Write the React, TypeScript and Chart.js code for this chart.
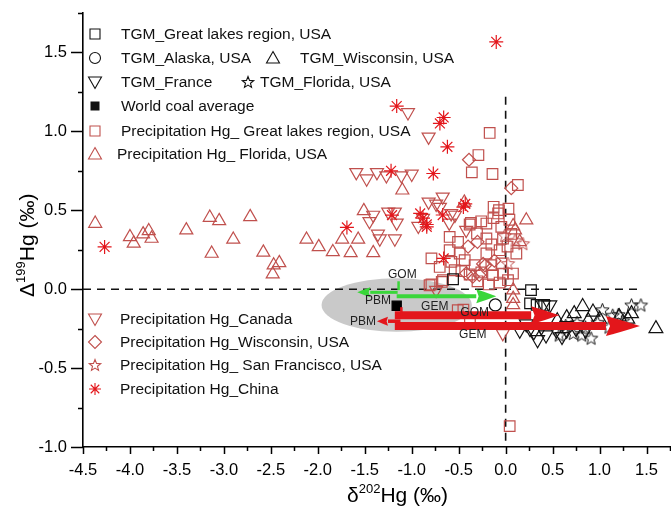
import React, { useEffect, useRef } from 'react';
import { Chart, registerables } from 'chart.js';

Chart.register(...registerables);

// ---------------- DATA (δ202Hg, Δ199Hg) ----------------
const xTickMin = -4.5;
const xTickMax = 1.75;
const yTickMin = -1.0;
const yTickMax = 1.75;

const tgmGreatLakes = [[-0.56, 0.063], [0.27, -0.006], [0.26, -0.09], [0.33, -0.1], [0.41, -0.1]];
const tgmAlaska = [[-0.11, -0.1]];
const tgmWisconsin = [[0.82, -0.11], [0.93, -0.145], [0.73, -0.155], [0.65, -0.18], [1.34, -0.155], [1.21, -0.175], [1.6, -0.25], [0.55, -0.2], [1.0, -0.19], [0.88, -0.2], [1.3, -0.19]];
const tgmFrance = [[0.15, -0.26], [0.26, -0.25], [0.34, -0.32], [0.43, -0.29], [0.54, -0.26], [0.65, -0.26], [0.47, -0.1], [0.38, -0.24], [0.75, -0.25], [0.6, -0.3], [0.22, -0.22], [0.4, -0.1], [0.3, -0.27], [0.85, -0.26]];
const tgmFlorida = [[1.03, -0.13], [1.34, -0.1], [1.44, -0.1], [1.14, -0.165], [0.91, -0.31], [0.81, -0.29], [0.72, -0.28], [0.57, -0.29], [0.98, -0.21], [1.25, -0.2], [0.85, -0.24], [1.1, -0.24], [0.64, -0.23], [1.2, -0.16], [0.76, -0.21]];
const worldCoal = [[-1.16, -0.105]];
const precipGreatLakes = [
  [-0.17, 0.99], [-0.29, 0.85], [-0.36, 0.74], [-0.14, 0.73], [0.13, 0.66],
  [-0.08, 0.48], [0.03, 0.51], [0.04, 0.44], [-0.13, 0.45], [-0.26, 0.43], [-0.37, 0.42],
  [-0.383, 0.41], [-0.205, 0.416], [-0.071, 0.501], [-0.128, 0.522], [-0.596, 0.331], [-0.507, 0.3],
  [-0.305, 0.353], [-0.152, 0.283], [-0.028, 0.321], [-0.046, 0.395], [-0.596, 0.247], [-0.489, 0.226],
  [-0.205, 0.226], [-0.064, 0.247], [-0.79, 0.195], [-0.578, 0.173], [-0.436, 0.184], [-0.33, 0.152],
  [-0.152, 0.152], [-0.046, 0.163], [-0.471, 0.114], [-0.383, 0.093], [-0.259, 0.106], [-0.135, 0.089],
  [-0.028, 0.099], [0.025, 0.057], [-0.064, 0.042], [-0.667, 0.057], [-0.79, 0.03], [-0.543, 0.12],
  [-0.702, 0.141], [0.078, 0.099], [0.114, 0.226], [-0.205, 0.321],
  [-0.81, 0.025], [-0.68, 0.046], [-0.51, -0.133], [-0.38, -0.196], [-0.45, -0.13], [0.043, -0.868],
  [0.06, 0.35], [0.02, 0.27], [-0.3, 0.05], [-0.18, 0.03],
];
const precipFlorida = [
  [-4.37, 0.416], [-4.0, 0.331], [-3.96, 0.29], [-3.86, 0.349], [-3.8, 0.369], [-3.77, 0.321],
  [-3.4, 0.374], [-3.15, 0.454], [-3.05, 0.433], [-3.13, 0.226], [-2.9, 0.315], [-2.72, 0.458],
  [-2.58, 0.233], [-2.47, 0.152], [-2.41, 0.167], [-2.48, 0.095], [-2.12, 0.315], [-1.99, 0.268],
  [-1.84, 0.236], [-1.74, 0.315], [-1.57, 0.315], [-1.65, 0.23], [-1.41, 0.23], [-1.51, 0.496],
  [-1.1, 0.627], [-0.44, 0.55], [0.22, 0.437], [0.1, 0.374], [0.08, 0.4], [0.08, -0.006],
  [0.08, -0.06], [0.08, -0.1], [0.15, 0.3],
];
const precipCanada = [
  [-1.04, 1.12], [-0.82, 0.965], [-1.59, 0.74], [-1.48, 0.7], [-1.37, 0.74], [-1.27, 0.72], [-1.11, 0.72],
  [-1.0, 0.73], [-1.41, 0.47], [-1.45, 0.43], [-1.25, 0.49], [-1.18, 0.49], [-1.16, 0.42], [-1.36, 0.35],
  [-1.34, 0.32], [-1.18, 0.32], [-0.82, 0.553], [-0.7, 0.52], [-0.74, 0.54], [-0.67, 0.585], [-0.58, 0.48],
  [-0.54, 0.47], [-0.42, 0.374], [-0.74, -0.006], [-0.03, -0.28], [-0.88, 0.45], [-0.93, 0.4], [-0.6, 0.42],
];
const precipWisconsin = [[-0.39, 0.82], [0.06, 0.64], [-0.4, 0.27], [-0.24, 0.16], [-0.12, 0.18], [-0.22, 0.15], [-0.35, 0.08], [-0.42, 0.1], [-0.28, 0.09], [-0.3, 0.3]];
const precipSanFrancisco = [[0.184, 0.289], [0.025, 0.163], [0.1, 0.31], [-0.01, 0.34]];
const precipChina = [
  [-0.1, 1.567], [-1.16, 1.16], [-0.66, 1.088], [-0.7, 1.05], [-0.62, 0.902], [-1.22, 0.75], [-0.77, 0.733],
  [-1.69, 0.391], [-1.21, 0.469], [-0.91, 0.48], [-0.88, 0.45], [-0.84, 0.41], [-0.67, 0.47], [-0.45, 0.52],
  [-0.43, 0.54], [-4.27, 0.268], [-0.66, 0.195], [-0.84, 0.395],
];

// source-region ellipse: centre x, centre y, half-width, half-height (data units)
const sourceEllipse = [-1.16, -0.1, 0.8, 0.17];
// arrows: [fromX, toX, y]
const greenArrows = [[-1.16, -0.1, -0.044], [-1.15, -1.58, -0.02]];
const redArrows = [[-1.18, 0.57, -0.165], [-1.18, 1.43, -0.234], [-1.12, -1.37, -0.203]];
const greenGom = [-1.14, 0.05, -0.006];
const redGom = [-1.11, -0.114, -0.165];
const greenLabels = [['GOM', -1.1, 0.095], ['PBM', -1.36, -0.07], ['GEM', -0.755, -0.108]];
const redLabels = [['GOM', -0.33, -0.146], ['PBM', -1.52, -0.203], ['GEM', -0.35, -0.29]];

const legendTop = [
  ['square', 'k', 95, 34, 'TGM_Great lakes region, USA', 121],
  ['circle', 'k', 95, 58, 'TGM_Alaska, USA', 121],
  ['triUp', 'k', 273, 58, 'TGM_Wisconsin, USA', 300],
  ['triDown', 'k', 95, 82, 'TGM_France', 121],
  ['star5', 'k', 248, 82, 'TGM_Florida, USA', 260],
  ['filled', 'k', 95, 106, 'World coal average', 121],
  ['square', 'b', 95, 131, 'Precipitation Hg_ Great lakes region, USA', 121],
  ['triUp', 'b', 95, 154, 'Precipitation Hg_ Florida, USA', 117],
  ['triDown', 'b', 95, 319, 'Precipitation Hg_Canada', 120],
  ['diamond', 'b', 95, 342, 'Precipitation Hg_Wisconsin, USA', 120],
  ['star5', 'b', 95, 365, 'Precipitation Hg_ San Francisco, USA', 120],
  ['asterisk', 'r', 95, 389, 'Precipitation Hg_China', 120],
];

// ---------------- STYLE ----------------
const FONT = '"Liberation Sans", Arial, sans-serif';
const BROWN = '#c0504d';
const RED = '#e3161b';
const GREEN = '#3ad63a';
const colorOf = (c: string) => (c === 'k' ? '#111' : c === 'b' ? BROWN : RED);

const toPts = (arr: number[][]) => arr.map(([x, y]) => ({ x, y }));
const isMajor = (v: number) => Math.abs(v * 2 - Math.round(v * 2)) < 1e-6;
const tickLabel = (v: any) => {
  const n = Number(v);
  return isMajor(n) && n <= 1.5 ? (Math.round(n * 100) / 100).toFixed(1) : '';
};

function makeStar(color: string, outer: number, inner: number, lw: number) {
  const size = Math.ceil(outer * 2 + 3);
  const c = document.createElement('canvas');
  c.width = size;
  c.height = size;
  const ctx = c.getContext('2d')!;
  ctx.strokeStyle = color;
  ctx.lineWidth = lw;
  ctx.beginPath();
  for (let i = 0; i < 10; i++) {
    const r = i % 2 === 0 ? outer : inner;
    const a = -Math.PI / 2 + (i * Math.PI) / 5;
    const px = size / 2 + r * Math.cos(a);
    const py = size / 2 + 0.6 + r * Math.sin(a);
    if (i === 0) ctx.moveTo(px, py);
    else ctx.lineTo(px, py);
  }
  ctx.closePath();
  ctx.stroke();
  return c;
}

function drawSymbol(ctx: CanvasRenderingContext2D, kind: string, x: number, y: number, color: string) {
  ctx.save();
  ctx.strokeStyle = color;
  ctx.fillStyle = color;
  ctx.lineWidth = 1.1;
  ctx.beginPath();
  if (kind === 'square') {
    ctx.rect(x - 5, y - 5, 10, 10);
    ctx.stroke();
  } else if (kind === 'filled') {
    ctx.rect(x - 4.5, y - 4.5, 9, 9);
    ctx.fill();
  } else if (kind === 'circle') {
    ctx.arc(x, y, 5.5, 0, Math.PI * 2);
    ctx.stroke();
  } else if (kind === 'triUp') {
    ctx.moveTo(x, y - 6.5);
    ctx.lineTo(x + 6.5, y + 5);
    ctx.lineTo(x - 6.5, y + 5);
    ctx.closePath();
    ctx.stroke();
  } else if (kind === 'triDown') {
    ctx.moveTo(x, y + 6.5);
    ctx.lineTo(x + 6.5, y - 5);
    ctx.lineTo(x - 6.5, y - 5);
    ctx.closePath();
    ctx.stroke();
  } else if (kind === 'diamond') {
    ctx.moveTo(x, y - 6.5);
    ctx.lineTo(x + 6.5, y);
    ctx.lineTo(x, y + 6.5);
    ctx.lineTo(x - 6.5, y);
    ctx.closePath();
    ctx.stroke();
  } else if (kind === 'star5') {
    for (let i = 0; i < 10; i++) {
      const r = i % 2 === 0 ? 6 : 2.6;
      const a = -Math.PI / 2 + (i * Math.PI) / 5;
      const px = x + r * Math.cos(a);
      const py = y + 0.5 + r * Math.sin(a);
      if (i === 0) ctx.moveTo(px, py);
      else ctx.lineTo(px, py);
    }
    ctx.closePath();
    ctx.stroke();
  } else if (kind === 'asterisk') {
    for (let i = 0; i < 4; i++) {
      const a = (i * Math.PI) / 4;
      ctx.moveTo(x - 6 * Math.cos(a), y - 6 * Math.sin(a));
      ctx.lineTo(x + 6 * Math.cos(a), y + 6 * Math.sin(a));
    }
    ctx.stroke();
  }
  ctx.restore();
}

function drawArrow(ctx: CanvasRenderingContext2D, x0: number, x1: number, y: number, shaft: number, headLen: number, headW: number, color: string) {
  const dir = x1 > x0 ? 1 : -1;
  const base = x1 - dir * headLen;
  ctx.save();
  ctx.fillStyle = color;
  ctx.beginPath();
  ctx.rect(Math.min(x0, base), y - shaft / 2, Math.abs(base - x0), shaft);
  ctx.fill();
  ctx.beginPath();
  ctx.moveTo(x1, y);
  ctx.quadraticCurveTo(base + dir * headLen * 0.45, y - headW * 0.3, base, y - headW / 2);
  ctx.lineTo(base + dir * headLen * 0.12, y);
  ctx.lineTo(base, y + headW / 2);
  ctx.quadraticCurveTo(base + dir * headLen * 0.45, y + headW * 0.3, x1, y);
  ctx.closePath();
  ctx.fill();
  ctx.restore();
}

const backgroundPlugin = {
  id: 'background',
  beforeDatasetsDraw(chart: any) {
    const { ctx, scales } = chart;
    const xs = scales.x;
    const ys = scales.y;
    const [ecx, ecy, erx, ery] = sourceEllipse;
    const cx = xs.getPixelForValue(ecx);
    const cy = ys.getPixelForValue(ecy);
    const rx = Math.abs(xs.getPixelForValue(ecx + erx) - cx);
    const ry = Math.abs(ys.getPixelForValue(ecy + ery) - cy);
    ctx.save();
    ctx.fillStyle = '#c9c9c9';
    ctx.beginPath();
    ctx.ellipse(cx, cy, rx, ry, 0, 0, Math.PI * 2);
    ctx.fill();
    ctx.strokeStyle = '#111';
    ctx.lineWidth = 1.6;
    ctx.setLineDash([8, 6]);
    ctx.beginPath();
    ctx.moveTo(xs.getPixelForValue(-4.5), ys.getPixelForValue(0));
    ctx.lineTo(xs.getPixelForValue(1.4), ys.getPixelForValue(0));
    ctx.moveTo(xs.getPixelForValue(0), ys.getPixelForValue(1.22));
    ctx.lineTo(xs.getPixelForValue(0), ys.getPixelForValue(-1.0));
    ctx.stroke();
    ctx.restore();
  },
};

const overlayPlugin = {
  id: 'overlay',
  afterDraw(chart: any) {
    const { ctx, scales } = chart;
    const xs = scales.x;
    const ys = scales.y;
    const X = (v: number) => xs.getPixelForValue(v);
    const Y = (v: number) => ys.getPixelForValue(v);

    const [g1, g2] = greenArrows;
    drawArrow(ctx, X(g1[0]), X(g1[1]), Y(g1[2]), 4, 20, 14, GREEN);
    drawArrow(ctx, X(g2[0]), X(g2[1]), Y(g2[2]), 3, 13, 10, GREEN);
    const [r1, r2, r3] = redArrows;
    drawArrow(ctx, X(r1[0]), X(r1[1]), Y(r1[2]), 8, 28, 18, RED);
    drawArrow(ctx, X(r2[0]), X(r2[1]), Y(r2[2]), 8, 34, 20, RED);
    drawArrow(ctx, X(r3[0]), X(r3[1]), Y(r3[2]), 3.5, 11, 9, RED);
    ctx.save();
    ctx.lineWidth = 2.5;
    ctx.strokeStyle = GREEN;
    ctx.beginPath();
    ctx.moveTo(X(greenGom[0]), Y(greenGom[1]));
    ctx.lineTo(X(greenGom[0]), Y(greenGom[2]));
    ctx.stroke();
    ctx.strokeStyle = RED;
    ctx.beginPath();
    ctx.moveTo(X(redGom[0]), Y(redGom[1]));
    ctx.lineTo(X(redGom[0]), Y(redGom[2]));
    ctx.stroke();
    ctx.fillStyle = '#222';
    ctx.font = `12px ${FONT}`;
    ctx.textAlign = 'center';
    ctx.textBaseline = 'middle';
    [...greenLabels, ...redLabels].forEach(([t, lx, ly]) => {
      ctx.fillText(t as string, X(lx as number), Y(ly as number));
    });
    ctx.restore();

    // tick marks
    ctx.save();
    ctx.strokeStyle = '#000';
    ctx.lineWidth = 1.5;
    ctx.beginPath();
    xs.ticks.forEach((t: any) => {
      const px = Math.round(xs.getPixelForValue(t.value)) + 0.5;
      const len = isMajor(t.value) ? 7 : 4;
      ctx.moveTo(px, xs.top);
      ctx.lineTo(px, xs.top + len);
    });
    ys.ticks.forEach((t: any) => {
      const py = Math.round(ys.getPixelForValue(t.value)) + 0.5;
      const len = isMajor(t.value) ? 12 : 5;
      ctx.moveTo(ys.right - len, py);
      ctx.lineTo(ys.right, py);
    });
    ctx.stroke();
    ctx.restore();

    // axis titles
    ctx.save();
    ctx.fillStyle = '#000';
    ctx.textAlign = 'left';
    ctx.textBaseline = 'alphabetic';
    const big = `21px ${FONT}`;
    const small = `13px ${FONT}`;
    let cx = 347;
    const by = 502;
    ctx.font = big;
    ctx.fillText('δ', cx, by);
    cx += ctx.measureText('δ').width;
    ctx.font = small;
    ctx.fillText('202', cx, by - 9);
    cx += ctx.measureText('202').width;
    ctx.font = big;
    ctx.fillText('Hg (‰)', cx, by);

    ctx.translate(34, 297);
    ctx.rotate(-Math.PI / 2);
    let ty = 0;
    ctx.font = big;
    ctx.fillText('Δ', ty, 0);
    ty += ctx.measureText('Δ').width;
    ctx.font = small;
    ctx.fillText('199', ty, -9);
    ty += ctx.measureText('199').width;
    ctx.font = big;
    ctx.fillText('Hg (‰)', ty, 0);
    ctx.restore();

    // legend
    ctx.save();
    ctx.font = `15.5px ${FONT}`;
    ctx.textAlign = 'left';
    ctx.textBaseline = 'middle';
    legendTop.forEach(([kind, col, sx, sy, text, tx]) => {
      drawSymbol(ctx, kind as string, sx as number, sy as number, colorOf(col as string));
      ctx.fillStyle = '#111';
      ctx.fillText(text as string, tx as number, (sy as number) + 1);
    });
    ctx.restore();
  },
};

export default function App() {
  const canvasRef = useRef<HTMLCanvasElement | null>(null);

  useEffect(() => {
    const canvas = canvasRef.current;
    if (!canvas) return;
    const starBlack = makeStar('#111', 7, 3, 1);
    const starBrown = makeStar(BROWN, 7, 3, 1);
    const base = { showLine: false, backgroundColor: 'rgba(0,0,0,0)', borderWidth: 1.2, pointHoverRadius: 7 };
    const chart = new Chart(canvas, {
      type: 'scatter',
      data: {
        datasets: [
          { ...base, label: 'Precipitation Hg_China', data: toPts(precipChina), pointStyle: 'star', pointRadius: 7, borderColor: RED },
          { ...base, label: 'World coal average', data: toPts(worldCoal), pointStyle: 'rect', pointRadius: 6.5, borderColor: '#000', backgroundColor: '#000' },
          { ...base, label: 'TGM_Great lakes region, USA', data: toPts(tgmGreatLakes), pointStyle: 'rect', pointRadius: 7.5, borderColor: '#111' },
          { ...base, label: 'TGM_Alaska, USA', data: toPts(tgmAlaska), pointStyle: 'circle', pointRadius: 6, borderColor: '#111' },
          { ...base, label: 'TGM_Wisconsin, USA', data: toPts(tgmWisconsin), pointStyle: 'triangle', pointRadius: 8, borderColor: '#111' },
          { ...base, label: 'TGM_France', data: toPts(tgmFrance), pointStyle: 'triangle', rotation: 180, pointRadius: 8, borderColor: '#111' },
          { ...base, label: 'TGM_Florida, USA', data: toPts(tgmFlorida), pointStyle: starBlack, pointRadius: 7, borderColor: '#111' },
          { ...base, label: 'Precipitation Hg_ Great lakes region, USA', data: toPts(precipGreatLakes), pointStyle: 'rect', pointRadius: 7.5, borderColor: BROWN },
          { ...base, label: 'Precipitation Hg_ Florida, USA', data: toPts(precipFlorida), pointStyle: 'triangle', pointRadius: 7.5, borderColor: BROWN },
          { ...base, label: 'Precipitation Hg_Canada', data: toPts(precipCanada), pointStyle: 'triangle', rotation: 180, pointRadius: 7.5, borderColor: BROWN },
          { ...base, label: 'Precipitation Hg_Wisconsin, USA', data: toPts(precipWisconsin), pointStyle: 'rectRot', pointRadius: 6.5, borderColor: BROWN },
          { ...base, label: 'Precipitation Hg_ San Francisco, USA', data: toPts(precipSanFrancisco), pointStyle: starBrown, pointRadius: 7, borderColor: BROWN },
        ] as any,
      },
      options: {
        responsive: false,
        animation: false,
        devicePixelRatio: 1,
        layout: { autoPadding: false, padding: { top: 13, right: 1, left: 0, bottom: 0 } },
        plugins: { legend: { display: false }, tooltip: { enabled: false } },
        scales: {
          x: {
            type: 'linear',
            position: 'bottom',
            min: xTickMin,
            max: xTickMax,
            grid: { display: false, drawTicks: false, tickLength: 0 },
            border: { display: true, color: '#000', width: 1.6 },
            ticks: {
              stepSize: 0.25,
              autoSkip: false,
              maxRotation: 0,
              padding: 14,
              color: '#000',
              font: { family: FONT, size: 16.5 },
              callback: tickLabel,
            },
            afterFit: (s: any) => {
              s.height = 60;
              s.paddingLeft = 0;
              s.paddingRight = 0;
            },
          },
          y: {
            type: 'linear',
            min: yTickMin,
            max: yTickMax,
            grid: { display: false, drawTicks: false, tickLength: 0 },
            border: { display: true, color: '#000', width: 1.6 },
            ticks: {
              stepSize: 0.25,
              autoSkip: false,
              padding: 16,
              color: '#000',
              font: { family: FONT, size: 16.5 },
              callback: tickLabel,
            },
            afterFit: (s: any) => {
              s.width = 83;
              s.paddingTop = 0;
              s.paddingBottom = 0;
            },
          },
        },
      } as any,
      plugins: [backgroundPlugin, overlayPlugin],
    });
    return () => chart.destroy();
  }, []);

  return (
    <div style={{ position: 'fixed', left: 0, top: 0, width: 671, height: 507, background: '#fff' }}>
      <canvas ref={canvasRef} width={671} height={507} style={{ display: 'block' }} />
    </div>
  );
}
